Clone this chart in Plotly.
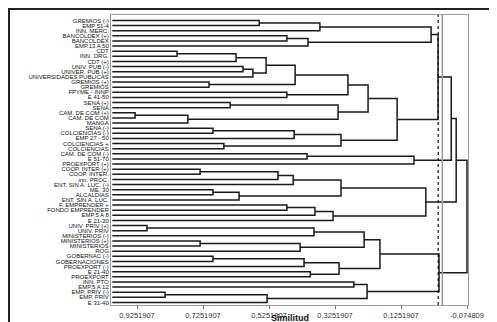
import plotly.graph_objects as go

# ---------------- data ----------------
leaf_labels = [
    "GREMIOS (-)", "EMP 51-4", "INN. MERC.", "BANCOLDEX (+)", "BANCOLDEX",
    "EMP.13 A 50", "CDT", "INN. ORG.", "CDT (+)", "UNIV. PUB (-)",
    "UNIVER. PUB (+)", "UNIVERSIDADES PUBLICAS", "GREMIOS (+)", "GREMIOS",
    "FPYME - INNP", "E 41-50", "SENA (+)", "SENA", "CAM. DE COM (+)",
    "CAM. DE COM", "MANGA", "SENA (-)", "COLCIENCIAS (-)", "EMP 27 - 50",
    "COLCIENCIAS +", "COLCIENCIAS", "CAM. DE COM (-)", "E 51-70",
    "PROEXPORT (+)", "COOP. INTER (+)", "COOP. INTER.", "inn. PROC.",
    "ENT. SIN A. LUC. (-)", "ME. 30", "ALCALDIAS", "ENT. SIN A. LUC.",
    "F. EMPRENDER +", "FONDO EMPRENDER", "EMP.5 A 8", "E 21-30",
    "UNIV. PRIV (+)", "UNIV. PRIV", "MINISTERIOS (-)", "MINISTERIOS (+)",
    "MINISTERIOS", "ROG", "GOBERNAC (-)", "GOBERNACIONES", "PROEXPORT (-)",
    "E 21-40", "PROEXPORT", "INN. PTO", "EMP.5 A 12", "EMP. PRIV (-)",
    "EMP. PRIV", "E 31-40",
]
leaf_similarity = 1.0

# merges: name, left child, right child (leaf index or earlier merge name), similarity
node_names = []
node_left = []
node_right = []
node_sim = []

def merge(name, a, b, s):
    node_names.append(name); node_left.append(a); node_right.append(b); node_sim.append(s)

merge("a1", 0, 1, 0.555); merge("a2", "a1", 2, 0.371)
merge("a3", 3, 4, 0.471); merge("a4", "a3", 5, 0.407)
merge("A", "a2", "a4", 0.034)
merge("d1", 6, 7, 0.804); merge("d2", "d1", 8, 0.625)
merge("d3", 9, 10, 0.604); merge("d4", "d3", 11, 0.574)
merge("d", "d2", "d4", 0.534)
merge("e", 12, 13, 0.707); merge("de", "d", "e", 0.446)
merge("f", 14, 15, 0.471); merge("def", "de", "f", 0.286)
merge("g", 16, 17, 0.643)
merge("h1", 18, 19, 0.931); merge("h", "h1", 20, 0.771)
merge("gh", "g", "h", 0.316)
merge("b1", "def", "gh", 0.225)
merge("i1", 21, 22, 0.695); merge("i", "i1", 23, 0.449)
merge("j", 24, 25, 0.662); merge("ij", "i", "j", 0.307)
merge("B", "b1", "ij", 0.137)
merge("X1a", "A", "B", 0.013)
merge("k1", 26, 27, 0.410); merge("X1b", "k1", 28, 0.086)
merge("X1", "X1a", "X1b", -0.027)
merge("n1", 29, 30, 0.734); merge("n2", "n1", 31, 0.498); merge("n2b", "n2", 32, 0.452)
merge("n3", 33, 34, 0.695); merge("n4", "n3", 35, 0.616)
merge("n6", "n2b", "n4", 0.307)
merge("n7", 36, 37, 0.471); merge("n8", "n7", 38, 0.386); merge("n9", "n8", 39, 0.331)
merge("X2", "n6", "n9", 0.050)
merge("X", "X1", "X2", -0.042)
merge("p1", 40, 41, 0.895); merge("p2", "p1", 42, 0.389)
merge("q1", 43, 44, 0.734); merge("q2", "q1", 45, 0.431)
merge("pq", "p2", "q2", 0.237)
merge("r1", 46, 47, 0.695); merge("r2", "r1", 48, 0.419)
merge("r3", 49, 50, 0.400); merge("r", "r2", "r3", 0.313)
merge("pqr", "pq", "r", 0.189)
merge("s1", 51, 52, 0.268)
merge("t1", 53, 54, 0.840); merge("t2", "t1", 55, 0.531)
merge("st", "s1", "t2", 0.228)
merge("Y", "pqr", "st", 0.010)
merge("root", "X", "Y", -0.0748)

x_tickvals = [0.9251907, 0.7251907, 0.5251907, 0.3251907, 0.1251907, -0.074809]
x_ticktext = ["0,9251907", "0,7251907", "0,5251907", "0,3251907", "0,1251907", "-0,074809"]
cut_level = 0.0125
zero_level = 0.0

# ---------------- build segments ----------------
pos = {}
for i in range(len(leaf_labels)):
    pos[i] = (leaf_similarity, float(i))

xs, ys = [], []
for name, a, b, s in zip(node_names, node_left, node_right, node_sim):
    xa, ya = pos[a]
    xb, yb = pos[b]
    xs += [xa, s, s, xb, None]
    ys += [ya, ya, yb, yb, None]
    pos[name] = (s, (ya + yb) / 2)

fig = go.Figure()
fig.add_trace(go.Scatter(x=xs, y=ys, mode="lines",
                         line=dict(color="#1a1a1a", width=1.5),
                         hoverinfo="skip", showlegend=False))

n = len(leaf_labels)
fig.add_shape(type="line", xref="x", yref="paper", x0=zero_level, x1=zero_level,
              y0=0, y1=1, line=dict(color="#9a9a9a", width=1.5))
fig.add_shape(type="line", xref="x", yref="paper", x0=cut_level, x1=cut_level,
              y0=0, y1=1, line=dict(color="#111", width=1.2, dash="dot"))

# scanned page frame (left, top, bottom)
L, T, R, B = 103, 7, 460, 297
W, H = 497, 322
def px(xp): return (xp - L) / (R - L)
def py(yp): return (B - yp) / (B - T)
fig.add_shape(type="line", xref="paper", yref="paper", x0=px(1), x1=px(1), y0=py(0), y1=py(H),
              line=dict(color="#222", width=2), layer="below")
fig.add_shape(type="line", xref="paper", yref="paper", x0=px(0), x1=px(W), y0=py(1), y1=py(1),
              line=dict(color="#222", width=2), layer="below")
fig.add_shape(type="line", xref="paper", yref="paper", x0=px(0), x1=px(W), y0=py(H - 0.6), y1=py(H - 0.6),
              line=dict(color="#333", width=1.2), layer="below")

fig.add_annotation(text="<b>Similitud</b>", xref="paper", yref="paper", x=0.5, y=py(309.5),
                   showarrow=False, font=dict(family="Liberation Sans, Arial", size=9, color="#111"),
                   xanchor="center", yanchor="middle", borderpad=0)

fig.update_layout(
    width=W, height=H,
    margin=dict(l=L, r=W - R, t=T, b=H - B),
    paper_bgcolor="white", plot_bgcolor="white",
    font=dict(family="Liberation Sans Narrow, Liberation Sans, Arial", color="#111111"),
)
fig.update_xaxes(range=[1.004, -0.0778], tickvals=x_tickvals, ticktext=x_ticktext,
                 ticks="outside", ticklen=3, tickcolor="#777", tickwidth=1,
                 tickfont=dict(size=7.5, family="Liberation Sans, Arial", color="#333333"),
                 showgrid=False, zeroline=False, showline=True, linecolor="#9a9a9a",
                 linewidth=1, mirror=True)
fig.update_yaxes(range=[n - 1 + 0.5, -1.07], tickvals=list(range(n)), ticktext=leaf_labels,
                 ticks="", tickfont=dict(size=6, color="#111111",
                                         family="Liberation Sans Narrow, Liberation Sans, Arial"),
                 showgrid=False, zeroline=False,
                 showline=True, linecolor="#9a9a9a", linewidth=1, mirror=True)

fig.write_html("out.html")
